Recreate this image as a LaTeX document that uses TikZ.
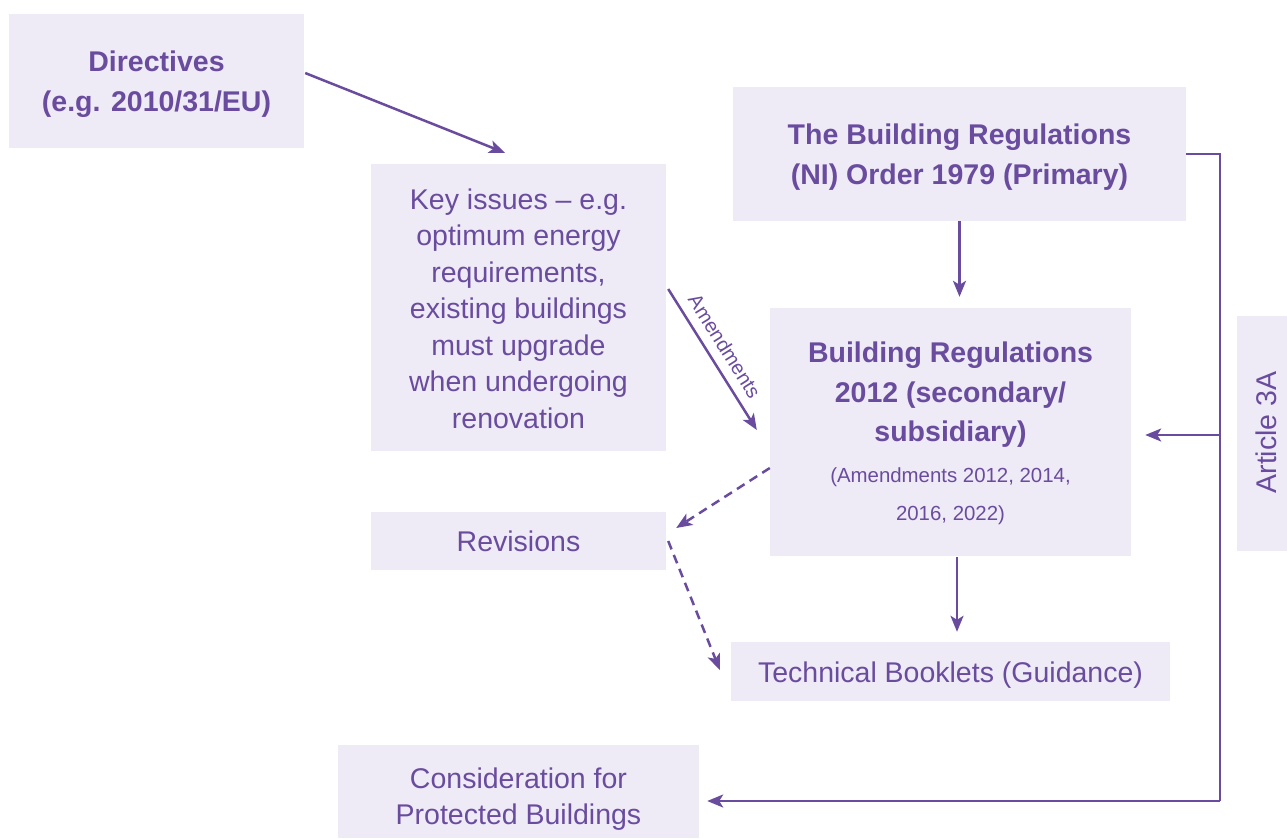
\documentclass[tikz,border=0pt]{standalone}
\usepackage{fontspec}
\setmainfont{Liberation Sans}
\usetikzlibrary{arrows.meta,calc}
\definecolor{ink}{HTML}{6A4C9E}
\definecolor{boxfill}{HTML}{EEEAF6}

% \panel{name}{x}{y}{width}{height}{text style}{text drop}{text}
% a filled panel plus its centred text, the text dropped a little
\newcommand{\panel}[8]{%
  \node[box, minimum width=#4pt, minimum height=#5pt] (#1) at (#2,#3) {};
  \node[#6] (#1-t) at (#2,#3+#7) {#8};
}

\begin{document}
\begin{tikzpicture}[x=1pt,y=-1pt,
  box/.style={fill=boxfill, draw=none, inner sep=0pt},
  plain/.style={inner sep=0pt, align=center, text=ink,
    font=\fontsize{28.5}{36.5}\selectfont},
  heading/.style={plain, font=\bfseries\fontsize{28.5}{39.5}\selectfont},
  note/.style={plain, font=\fontsize{20.4}{38}\selectfont},
  link/.style={draw=ink, line width=2.5pt, -{Stealth[length=16pt,width=13pt,inset=4pt]}},
  bare/.style={draw=ink, line width=2.5pt},
  dashlink/.style={link, dash pattern=on 9pt off 6pt}
]
\path[use as bounding box] (0,0) rectangle (1287,838);

% panels
\panel{dir}{156.5}{81}{295}{134}{heading}{3}{Directives\\(e.g. 2010/31/EU)}
\panel{key}{518.5}{307.5}{295}{287}{plain}{1}
  {Key issues – e.g.\\optimum energy\\requirements,\\existing buildings\\must upgrade\\when undergoing\\renovation}
\panel{order}{959.5}{154}{453}{134}{heading}{3}{The Building Regulations\\(NI) Order 1979 (Primary)}
\node[box, minimum width=361pt, minimum height=248pt] (br) at (950.5,432) {};
\node[heading] (brtitle) at (950.5,395) {Building Regulations\\2012 (secondary/\\subsidiary)};
\node[note] (brnote) at (950.5,496) {(Amendments 2012, 2014,\\2016, 2022)};
\node[box, minimum width=50pt, minimum height=235pt] (art) at (1262,433.5) {};
\node[plain, rotate=90] (artlabel) at (1266,432.5) {Article 3A};
\panel{rev}{518.5}{541}{295}{58}{plain}{0.5}{Revisions}
\panel{tech}{950.5}{671.5}{439}{59}{plain}{3.5}{Technical Booklets (Guidance)}
\panel{cons}{518.5}{791.5}{361}{93}{plain}{7.5}{Consideration for\\Protected Buildings}

% connectors
\draw[link] ($(dir.east)+(1,-8)$) -- ($(key.north)+(-13.5,-11)$);
\draw[link] ($(key.east)+(2,-18.5)$) -- node[pos=0.47, sloped, above=9pt, plain,
    font=\fontsize{20}{22}\selectfont] (amend) {Amendments} ($(br.west)+(-13,-2)$);
\draw[link] (order.south) -- ($(order.south |- br.north)+(0,-11)$);
\draw[dashlink] ($(br.west)+(0,36)$) -- ($(rev.east)+(10,-13)$);
\draw[dashlink] ($(rev.east)+(2,0)$) -- ($(tech.west)+(-11,-1.5)$);
\draw[link] ($(br.south)+(6.5,1)$) -- ($(tech.north)+(6.5,-10)$);

% Article 3A bus on the right
\coordinate (busTop) at ($(order.east)+(34,0)$);
\coordinate (busMid) at ($(busTop |- br.east)+(0,3)$);
\coordinate (busEnd) at ($(busTop |- cons.east)+(0,9.5)$);
\draw[bare, line join=miter] (order.east) -- (busTop) -- (busEnd);
\draw[link] (busEnd) -- ($(cons.east)+(8,9.5)$);
\draw[link] (busMid) -- ($(br.east)+(14,3)$);
\end{tikzpicture}
\end{document}
